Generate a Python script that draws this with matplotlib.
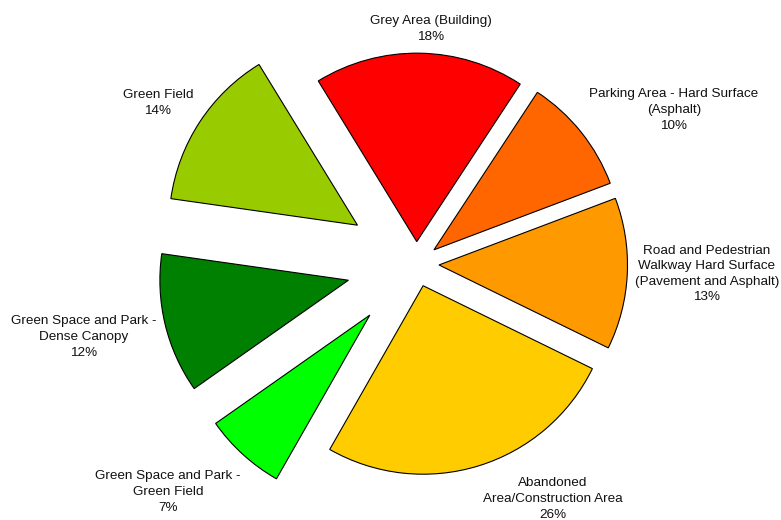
import matplotlib
matplotlib.use("Agg")
import matplotlib.pyplot as plt

# land cover shares
categories = ["Grey Area (Building)",
              "Parking Area - Hard Surface\n(Asphalt)",
              "Road and Pedestrian\nWalkway Hard Surface\n(Pavement and Asphalt)",
              "Abandoned\nArea/Construction Area",
              "Green Space and Park -\nGreen Field",
              "Green Space and Park -\nDense Canopy",
              "Green Field"]
shares = [18, 10, 13, 26, 7, 12, 14]
slice_colors = ["#FF0000", "#FF6600", "#FF9900", "#FFCC00",
                "#00FF00", "#008000", "#99CC00"]
explode = [0.118, 0.119, 0.12, 0.121, 0.367, 0.371, 0.374]

# label block centres in figure pixels (from top-left)
label_pos = [(431, 29), (674, 110), (707, 274), (553, 499),
             (168, 492), (84, 337), (158, 103)]

W, H = 781, 520
cx, cy = 416.4, 263.9   # pie centre, pixels from top-left
R = 188.5

plt.rcParams['font.family'] = ['Liberation Sans', 'DejaVu Sans']

fig = plt.figure(figsize=(W / 100, H / 100), dpi=100)
ax = fig.add_axes([0, 0, 1, 1])
# pie's explode is an absolute offset, so scale it by the radius
ax.pie(shares, colors=slice_colors, explode=[e * R for e in explode],
       radius=R, startangle=121.5, counterclock=False, center=(0, 0),
       wedgeprops=dict(edgecolor="black", linewidth=0.8))
ax.set_xlim(-cx, W - cx)
ax.set_ylim(-(H - cy), cy)
ax.set_aspect("equal")
ax.axis("off")

for name, val, (px, py) in zip(categories, shares, label_pos):
    fig.text(px / W, 1 - py / H, "%s\n%d%%" % (name, val),
             ha="center", va="center", multialignment="center",
             fontsize=9.7, color="#111111", linespacing=1.4)

fig.savefig("out.png", dpi=100)
